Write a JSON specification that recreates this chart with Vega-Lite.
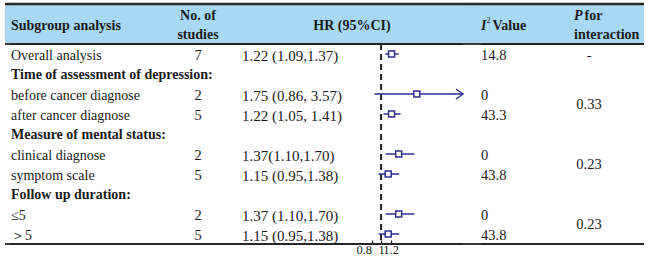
{
  "$schema": "https://vega.github.io/schema/vega-lite/v6.json",
  "padding": {"left": 3, "top": 2, "right": 0, "bottom": 0},
  "autosize": {"type": "pad"},
  "spacing": 0,
  "bounds": "flush",
  "config": {
    "view": {"stroke": null},
    "font": "Liberation Serif",
    "text": {"font": "Liberation Serif", "fontSize": 14, "fill": "#1a1a1a", "baseline": "middle"}
  },
  "datasets": {
    "rows": [
      {"row": "r0", "label": "Overall analysis", "kind": "item", "n": 7, "hrtext": "1.22 (1.09,1.37)", "hr": 1.22, "lo": 1.09, "hi": 1.37, "i2": "14.8"},
      {"row": "r1", "label": "Time of assessment of depression:", "kind": "group"},
      {"row": "r2", "label": "before cancer diagnose", "kind": "item", "n": 2, "hrtext": "1.75 (0.86, 3.57)", "hr": 1.75, "lo": 0.86, "hi": 3.57, "i2": "0"},
      {"row": "r3", "label": "after cancer diagnose", "kind": "item", "n": 5, "hrtext": "1.22 (1.05, 1.41)", "hr": 1.22, "lo": 1.05, "hi": 1.41, "i2": "43.3"},
      {"row": "r4", "label": "Measure of mental status:", "kind": "group"},
      {"row": "r5", "label": "clinical diagnose", "kind": "item", "n": 2, "hrtext": "1.37(1.10,1.70)", "hr": 1.37, "lo": 1.10, "hi": 1.70, "i2": "0"},
      {"row": "r6", "label": "symptom scale", "kind": "item", "n": 5, "hrtext": "1.15 (0.95,1.38)", "hr": 1.15, "lo": 0.95, "hi": 1.38, "i2": "43.8"},
      {"row": "r7", "label": "Follow up duration:", "kind": "group"},
      {"row": "r8", "label": "≤5", "kind": "item", "n": 2, "hrtext": "1.37 (1.10,1.70)", "hr": 1.37, "lo": 1.10, "hi": 1.70, "i2": "0"},
      {"row": "r9", "label": "＞5", "kind": "item", "n": 5, "hrtext": "1.15 (0.95,1.38)", "hr": 1.15, "lo": 0.95, "hi": 1.38, "i2": "43.8"}
    ],
    "pv": [
      {"row": "r0", "p": "-", "rows": 1},
      {"row": "r2", "p": "0.33", "rows": 2},
      {"row": "r5", "p": "0.23", "rows": 2},
      {"row": "r8", "p": "0.23", "rows": 2}
    ],
    "hdr": [{"row": "h1"}, {"row": "h2"}],
    "one": [{}]
  },
  "hconcat": [
    {
      "width": 6, "height": 240,
      "layer": [
        {"data": {"name": "hdr"}, "mark": {"type": "rect", "color": "#a8d9f4"}, "encoding": {"y": {"field": "row", "type": "nominal", "scale": {"type": "band", "domain": ["h1","h2","r0","r1","r2","r3","r4","r5","r6","r7","r8","r9"], "paddingInner": 0, "paddingOuter": 0}, "axis": null}}},
        {"data": {"name": "one"}, "mark": {"type": "rule", "color": "#262626", "strokeWidth": 2.5}, "encoding": {"y": {"datum": "h1", "type": "nominal", "bandPosition": 0, "axis": null}}},
        {"data": {"name": "one"}, "mark": {"type": "rule", "color": "#262626", "strokeWidth": 1.8}, "encoding": {"y": {"datum": "r0", "type": "nominal", "bandPosition": 0, "axis": null}}},
        {"data": {"name": "one"}, "mark": {"type": "rule", "color": "#262626", "strokeWidth": 1.8}, "encoding": {"y": {"datum": "r9", "type": "nominal", "bandPosition": 1, "axis": null}}}
      ]
    },
    {
      "width": 143, "height": 240,
      "layer": [
        {"data": {"name": "hdr"}, "mark": {"type": "rect", "color": "#a8d9f4"}, "encoding": {"y": {"field": "row", "type": "nominal", "scale": {"type": "band", "domain": ["h1","h2","r0","r1","r2","r3","r4","r5","r6","r7","r8","r9"], "paddingInner": 0, "paddingOuter": 0}, "axis": null}}},
        {"data": {"name": "one"}, "mark": {"type": "rule", "color": "#262626", "strokeWidth": 2.5}, "encoding": {"y": {"datum": "h1", "type": "nominal", "bandPosition": 0, "axis": null}}},
        {"data": {"name": "one"}, "mark": {"type": "rule", "color": "#262626", "strokeWidth": 1.8}, "encoding": {"y": {"datum": "r0", "type": "nominal", "bandPosition": 0, "axis": null}}},
        {"data": {"name": "one"}, "mark": {"type": "rule", "color": "#262626", "strokeWidth": 1.8}, "encoding": {"y": {"datum": "r9", "type": "nominal", "bandPosition": 1, "axis": null}}},
        {"data": {"name": "one"}, "mark": {"type": "text", "align": "left", "fontWeight": "bold", "dy": 1.5, "text": "Subgroup analysis"}, "encoding": {"x": {"datum": 0, "type": "quantitative", "scale": {"domain": [0, 1], "nice": false, "zero": false}, "axis": null}, "y": {"datum": "h1", "type": "nominal", "bandPosition": 1, "axis": null}}},
        {"data": {"name": "rows"}, "transform": [{"filter": "datum.kind == 'item'"}], "mark": {"type": "text", "align": "left", "dy": 1.5}, "encoding": {"x": {"datum": 0, "type": "quantitative", "axis": null}, "y": {"field": "row", "type": "nominal", "axis": null}, "text": {"field": "label"}}},
        {"data": {"name": "rows"}, "transform": [{"filter": "datum.kind == 'group'"}], "mark": {"type": "text", "align": "left", "fontWeight": "bold", "dy": 1}, "encoding": {"x": {"datum": 0, "type": "quantitative", "axis": null}, "y": {"field": "row", "type": "nominal", "axis": null}, "text": {"field": "label"}}}
      ]
    },
    {
      "width": 88, "height": 240,
      "layer": [
        {"data": {"name": "hdr"}, "mark": {"type": "rect", "color": "#a8d9f4"}, "encoding": {"y": {"field": "row", "type": "nominal", "scale": {"type": "band", "domain": ["h1","h2","r0","r1","r2","r3","r4","r5","r6","r7","r8","r9"], "paddingInner": 0, "paddingOuter": 0}, "axis": null}}},
        {"data": {"name": "one"}, "mark": {"type": "rule", "color": "#262626", "strokeWidth": 2.5}, "encoding": {"y": {"datum": "h1", "type": "nominal", "bandPosition": 0, "axis": null}}},
        {"data": {"name": "one"}, "mark": {"type": "rule", "color": "#262626", "strokeWidth": 1.8}, "encoding": {"y": {"datum": "r0", "type": "nominal", "bandPosition": 0, "axis": null}}},
        {"data": {"name": "one"}, "mark": {"type": "rule", "color": "#262626", "strokeWidth": 1.8}, "encoding": {"y": {"datum": "r9", "type": "nominal", "bandPosition": 1, "axis": null}}},
        {"data": {"name": "one"}, "mark": {"type": "text", "align": "center", "fontWeight": "bold", "dy": 2, "text": "No. of"}, "encoding": {"y": {"datum": "h1", "type": "nominal", "axis": null}}},
        {"data": {"name": "one"}, "mark": {"type": "text", "align": "center", "fontWeight": "bold", "dy": 1, "text": "studies"}, "encoding": {"y": {"datum": "h2", "type": "nominal", "axis": null}}},
        {"data": {"name": "rows"}, "transform": [{"filter": "isValid(datum.n)"}], "mark": {"type": "text", "align": "center", "fontSize": 14.5, "dy": 1.5}, "encoding": {"y": {"field": "row", "type": "nominal", "axis": null}, "text": {"field": "n"}}}
      ]
    },
    {
      "width": 110, "height": 240,
      "layer": [
        {"data": {"name": "hdr"}, "mark": {"type": "rect", "color": "#a8d9f4"}, "encoding": {"y": {"field": "row", "type": "nominal", "scale": {"type": "band", "domain": ["h1","h2","r0","r1","r2","r3","r4","r5","r6","r7","r8","r9"], "paddingInner": 0, "paddingOuter": 0}, "axis": null}}},
        {"data": {"name": "one"}, "mark": {"type": "rule", "color": "#262626", "strokeWidth": 2.5}, "encoding": {"y": {"datum": "h1", "type": "nominal", "bandPosition": 0, "axis": null}}},
        {"data": {"name": "one"}, "mark": {"type": "rule", "color": "#262626", "strokeWidth": 1.8}, "encoding": {"y": {"datum": "r0", "type": "nominal", "bandPosition": 0, "axis": null}}},
        {"data": {"name": "one"}, "mark": {"type": "rule", "color": "#262626", "strokeWidth": 1.8}, "encoding": {"y": {"datum": "r9", "type": "nominal", "bandPosition": 1, "axis": null}}},
        {"data": {"name": "rows"}, "transform": [{"filter": "isValid(datum.hrtext)"}], "mark": {"type": "text", "align": "left", "fontSize": 15, "dy": 1.5}, "encoding": {"x": {"datum": 0, "type": "quantitative", "scale": {"domain": [0, 1], "nice": false, "zero": false}, "axis": null}, "y": {"field": "row", "type": "nominal", "axis": null}, "text": {"field": "hrtext"}}}
      ]
    },
    {
      "width": 111, "height": 240,
      "layer": [
        {"data": {"name": "one"}, "mark": {"type": "rule", "color": "#222222", "strokeWidth": 2, "strokeDash": [6, 4]}, "encoding": {"x": {"datum": 1, "type": "quantitative", "scale": {"domain": [0.39, 2.72], "clamp": true, "nice": false, "zero": false}, "axis": {"values": [0.8, 1, 1.2], "format": ".1~f", "domain": false, "grid": false, "ticks": true, "tickSize": -4, "tickColor": "#222222", "tickWidth": 1.3, "labelFont": "Liberation Serif", "labelFontSize": 12.5, "labelColor": "#1a1a1a", "labelPadding": 3, "labelFlush": false, "labelOverlap": false, "labelAlign": {"expr": "datum.value < 0.9 ? 'right' : 'center'"}, "title": null}}}},
        {"data": {"name": "hdr"}, "mark": {"type": "rect", "color": "#a8d9f4"}, "encoding": {"y": {"field": "row", "type": "nominal", "scale": {"type": "band", "domain": ["h1","h2","r0","r1","r2","r3","r4","r5","r6","r7","r8","r9"], "paddingInner": 0, "paddingOuter": 0}, "axis": null}}},
        {"data": {"name": "one"}, "mark": {"type": "rule", "color": "#262626", "strokeWidth": 2.5}, "encoding": {"y": {"datum": "h1", "type": "nominal", "bandPosition": 0, "axis": null}}},
        {"data": {"name": "one"}, "mark": {"type": "rule", "color": "#262626", "strokeWidth": 1.8}, "encoding": {"y": {"datum": "r0", "type": "nominal", "bandPosition": 0, "axis": null}}},
        {"data": {"name": "one"}, "mark": {"type": "rule", "color": "#262626", "strokeWidth": 1.8}, "encoding": {"y": {"datum": "r9", "type": "nominal", "bandPosition": 1, "axis": null}}},
        {"data": {"name": "one"}, "mark": {"type": "text", "align": "center", "fontWeight": "bold", "dy": 1.5, "text": "HR (95%CI)"}, "encoding": {"x": {"datum": 0.39, "type": "quantitative", "title": null}, "y": {"datum": "h1", "type": "nominal", "bandPosition": 1, "axis": null}}},
        {"data": {"name": "rows"}, "transform": [{"filter": "isValid(datum.hr)"}], "mark": {"type": "rule", "color": "#2e2e8f", "strokeWidth": 1.5}, "encoding": {"x": {"field": "lo", "type": "quantitative", "title": null}, "x2": {"field": "hi"}, "y": {"field": "row", "type": "nominal", "axis": null}}},
        {"data": {"name": "rows"}, "transform": [{"filter": "datum.hi > 2.72"}], "mark": {"type": "point", "shape": "M -1.4 -1 L 0 0 L -1.4 1", "filled": false, "stroke": "#2e2e8f", "strokeWidth": 1.5, "size": 100, "opacity": 1}, "encoding": {"x": {"field": "hi", "type": "quantitative", "title": null}, "y": {"field": "row", "type": "nominal", "axis": null}}},
        {"data": {"name": "rows"}, "transform": [{"filter": "isValid(datum.hr)"}], "mark": {"type": "point", "shape": "square", "filled": true, "fill": "white", "stroke": "#2e2e8f", "strokeWidth": 1.5, "size": 36, "opacity": 1}, "encoding": {"x": {"field": "hr", "type": "quantitative", "title": null}, "y": {"field": "row", "type": "nominal", "axis": null}}}
      ]
    },
    {
      "width": 18, "height": 240,
      "layer": [
        {"data": {"name": "hdr"}, "mark": {"type": "rect", "color": "#a8d9f4"}, "encoding": {"y": {"field": "row", "type": "nominal", "scale": {"type": "band", "domain": ["h1","h2","r0","r1","r2","r3","r4","r5","r6","r7","r8","r9"], "paddingInner": 0, "paddingOuter": 0}, "axis": null}}},
        {"data": {"name": "one"}, "mark": {"type": "rule", "color": "#262626", "strokeWidth": 2.5}, "encoding": {"y": {"datum": "h1", "type": "nominal", "bandPosition": 0, "axis": null}}},
        {"data": {"name": "one"}, "mark": {"type": "rule", "color": "#262626", "strokeWidth": 1.8}, "encoding": {"y": {"datum": "r0", "type": "nominal", "bandPosition": 0, "axis": null}}},
        {"data": {"name": "one"}, "mark": {"type": "rule", "color": "#262626", "strokeWidth": 1.8}, "encoding": {"y": {"datum": "r9", "type": "nominal", "bandPosition": 1, "axis": null}}}
      ]
    },
    {
      "width": 93, "height": 240,
      "layer": [
        {"data": {"name": "hdr"}, "mark": {"type": "rect", "color": "#a8d9f4"}, "encoding": {"y": {"field": "row", "type": "nominal", "scale": {"type": "band", "domain": ["h1","h2","r0","r1","r2","r3","r4","r5","r6","r7","r8","r9"], "paddingInner": 0, "paddingOuter": 0}, "axis": null}}},
        {"data": {"name": "one"}, "mark": {"type": "rule", "color": "#262626", "strokeWidth": 2.5}, "encoding": {"y": {"datum": "h1", "type": "nominal", "bandPosition": 0, "axis": null}}},
        {"data": {"name": "one"}, "mark": {"type": "rule", "color": "#262626", "strokeWidth": 1.8}, "encoding": {"y": {"datum": "r0", "type": "nominal", "bandPosition": 0, "axis": null}}},
        {"data": {"name": "one"}, "mark": {"type": "rule", "color": "#262626", "strokeWidth": 1.8}, "encoding": {"y": {"datum": "r9", "type": "nominal", "bandPosition": 1, "axis": null}}},
        {"data": {"name": "one"}, "mark": {"type": "text", "align": "left", "fontWeight": "bold", "fontStyle": "italic", "dy": 1.5, "text": "I"}, "encoding": {"x": {"datum": 0, "type": "quantitative", "scale": {"domain": [0, 1], "nice": false, "zero": false}, "axis": null}, "y": {"datum": "h1", "type": "nominal", "bandPosition": 1, "axis": null}}},
        {"data": {"name": "one"}, "mark": {"type": "text", "align": "left", "fontSize": 8, "dx": 5.5, "dy": -3.5, "text": "2"}, "encoding": {"x": {"datum": 0, "type": "quantitative", "axis": null}, "y": {"datum": "h1", "type": "nominal", "bandPosition": 1, "axis": null}}},
        {"data": {"name": "one"}, "mark": {"type": "text", "align": "left", "fontWeight": "bold", "dx": 11.5, "dy": 1.5, "text": "Value"}, "encoding": {"x": {"datum": 0, "type": "quantitative", "axis": null}, "y": {"datum": "h1", "type": "nominal", "bandPosition": 1, "axis": null}}},
        {"data": {"name": "rows"}, "transform": [{"filter": "isValid(datum.i2)"}], "mark": {"type": "text", "align": "left", "fontSize": 14.5, "dy": 1.5}, "encoding": {"x": {"datum": 0, "type": "quantitative", "axis": null}, "y": {"field": "row", "type": "nominal", "axis": null}, "text": {"field": "i2"}}}
      ]
    },
    {
      "width": 70, "height": 240,
      "layer": [
        {"data": {"name": "hdr"}, "mark": {"type": "rect", "color": "#a8d9f4"}, "encoding": {"y": {"field": "row", "type": "nominal", "scale": {"type": "band", "domain": ["h1","h2","r0","r1","r2","r3","r4","r5","r6","r7","r8","r9"], "paddingInner": 0, "paddingOuter": 0}, "axis": null}}},
        {"data": {"name": "one"}, "mark": {"type": "rule", "color": "#262626", "strokeWidth": 2.5}, "encoding": {"y": {"datum": "h1", "type": "nominal", "bandPosition": 0, "axis": null}}},
        {"data": {"name": "one"}, "mark": {"type": "rule", "color": "#262626", "strokeWidth": 1.8}, "encoding": {"y": {"datum": "r0", "type": "nominal", "bandPosition": 0, "axis": null}}},
        {"data": {"name": "one"}, "mark": {"type": "rule", "color": "#262626", "strokeWidth": 1.8}, "encoding": {"y": {"datum": "r9", "type": "nominal", "bandPosition": 1, "axis": null}}},
        {"data": {"name": "one"}, "mark": {"type": "text", "align": "left", "fontWeight": "bold", "fontStyle": "italic", "dy": 2, "text": "P"}, "encoding": {"x": {"datum": 0, "type": "quantitative", "scale": {"domain": [0, 1], "nice": false, "zero": false}, "axis": null}, "y": {"datum": "h1", "type": "nominal", "axis": null}}},
        {"data": {"name": "one"}, "mark": {"type": "text", "align": "left", "fontWeight": "bold", "dx": 10.5, "dy": 2, "text": "for"}, "encoding": {"x": {"datum": 0, "type": "quantitative", "axis": null}, "y": {"datum": "h1", "type": "nominal", "axis": null}}},
        {"data": {"name": "one"}, "mark": {"type": "text", "align": "left", "fontWeight": "bold", "dy": 1, "text": "interaction"}, "encoding": {"x": {"datum": 0, "type": "quantitative", "axis": null}, "y": {"datum": "h2", "type": "nominal", "axis": null}}},
        {"data": {"name": "pv"}, "transform": [{"filter": "datum.rows == 1"}], "mark": {"type": "text", "align": "center", "fontSize": 14.5, "dy": 1.5}, "encoding": {"x": {"datum": 0.215, "type": "quantitative", "axis": null}, "y": {"field": "row", "type": "nominal", "axis": null}, "text": {"field": "p"}}},
        {"data": {"name": "pv"}, "transform": [{"filter": "datum.rows == 2"}], "mark": {"type": "text", "align": "center", "fontSize": 14.5, "dy": 1}, "encoding": {"x": {"datum": 0.215, "type": "quantitative", "axis": null}, "y": {"field": "row", "type": "nominal", "bandPosition": 1, "axis": null}, "text": {"field": "p"}}}
      ]
    }
  ]
}
